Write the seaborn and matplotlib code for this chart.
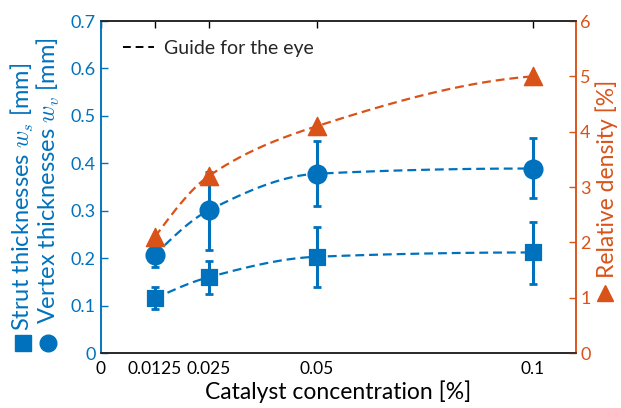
import numpy as np
import pandas as pd
import matplotlib
matplotlib.use("Agg")
import matplotlib.pyplot as plt
import seaborn as sns
from matplotlib.lines import Line2D

# ---- data ----
conc = [0.0125, 0.025, 0.05, 0.1]
strut = [0.115, 0.160, 0.203, 0.212]
strut_lo = [0.092, 0.125, 0.140, 0.146]
strut_hi = [0.139, 0.195, 0.265, 0.277]
vertex = [0.207, 0.301, 0.378, 0.389]
vertex_lo = [0.182, 0.217, 0.310, 0.327]
vertex_hi = [0.228, 0.382, 0.446, 0.453]
density = [2.1, 3.2, 4.1, 5.0]
xticks = [0, 0.0125, 0.025, 0.05, 0.1]
xticklabels = ["0", "0.0125", "0.025", "0.05", "0.1"]

BLUE = "#0072BD"
ORANGE = "#D95319"

sns.set_style("white")
plt.rcParams["font.family"] = ["Lato", "DejaVu Sans"]
plt.rcParams["mathtext.fontset"] = "cm"


def pchip(x, y, xs):
    x = np.asarray(x, float); y = np.asarray(y, float)
    h = np.diff(x); d = np.diff(y) / h
    n = len(x); m = np.zeros(n)
    for k in range(1, n - 1):
        if d[k - 1] * d[k] > 0:
            w1 = 2 * h[k] + h[k - 1]; w2 = h[k] + 2 * h[k - 1]
            m[k] = (w1 + w2) / (w1 / d[k - 1] + w2 / d[k])
    def end(h0, h1, d0, d1):
        v = ((2 * h0 + h1) * d0 - h0 * d1) / (h0 + h1)
        if np.sign(v) != np.sign(d0):
            v = 0.0
        elif np.sign(d0) != np.sign(d1) and abs(v) > 3 * abs(d0):
            v = 3 * d0
        return v
    m[0] = end(h[0], h[1], d[0], d[1])
    m[-1] = end(h[-1], h[-2], d[-1], d[-2])
    out = np.empty_like(xs)
    for i, xv in enumerate(xs):
        k = min(np.searchsorted(x, xv, side="right") - 1, n - 2)
        k = max(k, 0)
        t = (xv - x[k]) / h[k]
        h00 = 2 * t**3 - 3 * t**2 + 1; h10 = t**3 - 2 * t**2 + t
        h01 = -2 * t**3 + 3 * t**2; h11 = t**3 - t**2
        out[i] = h00 * y[k] + h10 * h[k] * m[k] + h01 * y[k + 1] + h11 * h[k] * m[k + 1]
    return out


xs = np.linspace(conc[0], conc[-1], 200)
df_s = pd.DataFrame({"x": xs, "y": pchip(conc, strut, xs)})
df_v = pd.DataFrame({"x": xs, "y": pchip(conc, vertex, xs)})
df_d = pd.DataFrame({"x": xs, "y": pchip(conc, density, xs)})

fig = plt.figure(figsize=(6.21, 4.08), dpi=100)
ax = fig.add_axes([0.1626, 0.1348, 0.765, 0.8137])
ax2 = ax.twinx()

dash = (4, 2.2)
sns.lineplot(data=df_s, x="x", y="y", ax=ax, color=BLUE, lw=1.6, linestyle=(0, dash))
sns.lineplot(data=df_v, x="x", y="y", ax=ax, color=BLUE, lw=1.6, linestyle=(0, dash))
sns.lineplot(data=df_d, x="x", y="y", ax=ax2, color=ORANGE, lw=1.6, linestyle=(0, dash))

s = np.array(strut); v = np.array(vertex)
ax.errorbar(conc, strut, yerr=[s - np.array(strut_lo), np.array(strut_hi) - s],
            fmt="none", ecolor=BLUE, elinewidth=2.2, capsize=3, capthick=2)
ax.errorbar(conc, vertex, yerr=[v - np.array(vertex_lo), np.array(vertex_hi) - v],
            fmt="none", ecolor=BLUE, elinewidth=2.2, capsize=3, capthick=2)
sns.scatterplot(x=conc, y=strut, ax=ax, marker="s", s=120, color=BLUE, edgecolor=BLUE, zorder=5)
sns.scatterplot(x=conc, y=vertex, ax=ax, marker="o", s=180, color=BLUE, edgecolor=BLUE, zorder=5)
sns.scatterplot(x=conc, y=density, ax=ax2, marker="^", s=170, color=ORANGE, edgecolor=ORANGE, zorder=5)

ax.set_xlim(0, 0.11)
ax.set_ylim(0, 0.7)
ax2.set_ylim(0, 6)
ax.set_xticks(xticks)
ax.set_xticklabels(xticklabels)
ax.set_yticks(np.arange(0, 0.71, 0.1))
ax.set_yticklabels(["0", "0.1", "0.2", "0.3", "0.4", "0.5", "0.6", "0.7"])
ax2.set_yticks(range(0, 7))

ax.tick_params(axis="x", direction="in", length=5, width=1, top=True, labelsize=12.5, colors="black", pad=6)
ax.tick_params(axis="y", direction="in", length=5, width=1, labelsize=13, colors=BLUE, pad=4)
ax2.tick_params(axis="y", direction="in", length=5, width=1, labelsize=13, colors=ORANGE, pad=3)
ax.set_xlabel("Catalyst concentration [%]", fontsize=16.5, color="black", labelpad=2)
ax.set_ylabel("")
ax2.set_ylabel("")

for a in (ax, ax2):
    for sp in a.spines.values():
        sp.set_linewidth(1.1)
ax.spines["left"].set_color(BLUE)
ax2.spines["left"].set_color(BLUE)
ax2.spines["right"].set_color(ORANGE)
ax.spines["right"].set_color(ORANGE)
for a in (ax, ax2):
    a.spines["top"].set_color("#222222")
    a.spines["bottom"].set_color("#222222")

# rotated axis labels with marker symbols
fig.add_artist(Line2D([0.037], [1 - 343 / 408], marker="s", ms=11, color=BLUE, transform=fig.transFigure))
fig.add_artist(Line2D([0.078], [1 - 343 / 408], marker="o", ms=12, color=BLUE, transform=fig.transFigure))
fig.add_artist(Line2D([0.975], [1 - 293 / 408], marker="^", ms=12, color=ORANGE, transform=fig.transFigure))
fig.text(0.037, 1 - 331 / 408, "Strut thicknesses $w_s$ [mm]", rotation=90, color=BLUE,
         fontsize=17, ha="center", va="bottom")
fig.text(0.078, 1 - 324 / 408, "Vertex thicknesses $w_v$ [mm]", rotation=90, color=BLUE,
         fontsize=17, ha="center", va="bottom")
fig.text(0.977, 1 - 278 / 408, "Relative density [%]", rotation=90, color=ORANGE,
         fontsize=16.5, ha="center", va="bottom")

h = Line2D([], [], color="black", lw=1.4, linestyle=(0, (4, 2.5)))
ax.legend([h], ["Guide for the eye"], loc="upper left", frameon=False, fontsize=14,
          handlelength=1.6, handletextpad=0.5, bbox_to_anchor=(0.01, 0.995))

fig.savefig("out.png", dpi=100)
